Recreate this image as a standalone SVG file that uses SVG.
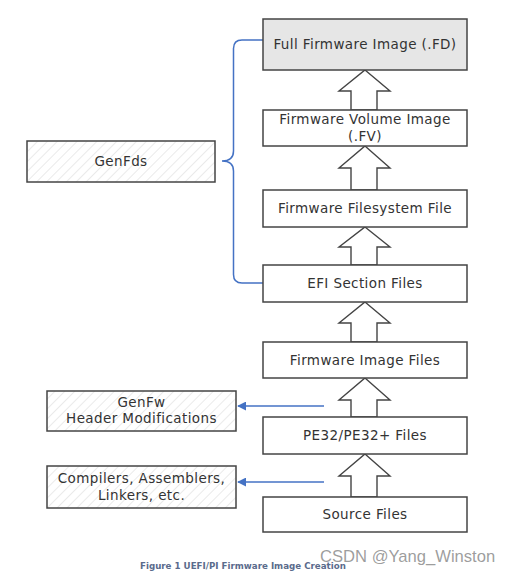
<svg xmlns="http://www.w3.org/2000/svg" width="511" height="576" viewBox="0 0 511 576">
<defs>
<pattern id="hatch" width="7" height="7" patternUnits="userSpaceOnUse" patternTransform="rotate(45)">
<rect width="7" height="7" fill="#ffffff"/>
<line x1="0" y1="0" x2="0" y2="7" stroke="#dcdcdc" stroke-width="1.2"/>
</pattern>
<marker id="ah" viewBox="0 0 10 10" refX="9" refY="5" markerWidth="6" markerHeight="6" orient="auto">
<path d="M0,0 L10,5 L0,10 Z" fill="#4472c4"/>
</marker>
</defs>
<style>
.box{fill:#ffffff;stroke:#444444;stroke-width:1.5}
.gray{fill:#e6e6e6}
.hat{fill:url(#hatch);stroke:#444444;stroke-width:1.5}
.t{font-family:"DejaVu Sans",Verdana,sans-serif;font-size:13.5px;letter-spacing:0.4px;fill:#333333;text-anchor:middle}
.blk{fill:#ffffff;stroke:#444444;stroke-width:1.4;stroke-linejoin:miter}
.blue{fill:none;stroke:#4472c4;stroke-width:1.5}
</style>
<rect width="511" height="576" fill="#ffffff"/>
<g id="connectors">
<polygon class="blk" points="365,70 390,91 377,91 377,110 351,110 351,91 339,91"/>
<polygon class="blk" points="365,146 390,168 377,168 377,190 351,190 351,168 339,168"/>
<polygon class="blk" points="365,227 390,247 377,247 377,265 351,265 351,247 339,247"/>
<polygon class="blk" points="365,302 390,323 377,323 377,342 351,342 351,323 339,323"/>
<polygon class="blk" points="365,378 390,400 377,400 377,417 351,417 351,400 339,400"/>
<polygon class="blk" points="365,454 390,476 377,476 377,497 351,497 351,476 339,476"/>
<path class="blue" d="M263,40 L242,40 Q233.5,40 233.5,48.5 L233.5,151 Q233.5,161 222,161 Q233.5,161 233.5,171 L233.5,274.5 Q233.5,283 242,283 L263,283"/>
<line class="blue" x1="324" y1="406" x2="238" y2="406" marker-end="url(#ah)"/>
<line class="blue" x1="324" y1="482" x2="238" y2="482" marker-end="url(#ah)"/>
</g>
<g id="fd"><rect class="box gray" x="263" y="19" width="204" height="51"/><text class="t" x="365" y="49">Full Firmware Image (.FD)</text></g>
<g id="fv"><rect class="box" x="263" y="110" width="204" height="36"/><text class="t" x="365" y="124">Firmware Volume Image</text><text class="t" x="365" y="141">(.FV)</text></g>
<g id="ffs"><rect class="box" x="263" y="190" width="204" height="37"/><text class="t" x="365" y="213">Firmware Filesystem File</text></g>
<g id="efi"><rect class="box" x="263" y="265" width="204" height="37"/><text class="t" x="365" y="288">EFI Section Files</text></g>
<g id="fwimg"><rect class="box" x="263" y="342" width="204" height="36"/><text class="t" x="365" y="365">Firmware Image Files</text></g>
<g id="pe32"><rect class="box" x="263" y="417" width="204" height="37"/><text class="t" x="365" y="440">PE32/PE32+ Files</text></g>
<g id="src"><rect class="box" x="263" y="497" width="204" height="35"/><text class="t" x="365" y="519">Source Files</text></g>
<g id="genfds"><rect class="hat" x="27" y="141" width="188" height="41"/><text class="t" x="121" y="166">GenFds</text></g>
<g id="genfw"><rect class="hat" x="47" y="391" width="189" height="40"/><text class="t" x="141.5" y="407">GenFw</text><text class="t" x="141.5" y="423">Header Modifications</text></g>
<g id="compilers"><rect class="hat" x="47" y="466" width="189" height="42"/><text class="t" x="141.5" y="483">Compilers, Assemblers,</text><text class="t" x="141.5" y="500">Linkers, etc.</text></g>
<text x="140" y="569" font-family="DejaVu Sans,Verdana,sans-serif" font-size="8.7" font-weight="bold" fill="#5a6b8c">Figure 1 UEFI/PI Firmware Image Creation</text>
<text x="320" y="562" font-family="Liberation Sans,Arial,sans-serif" font-size="16.6" fill="#8c8c8c" fill-opacity="0.85">CSDN @Yang_Winston</text>
</svg>
